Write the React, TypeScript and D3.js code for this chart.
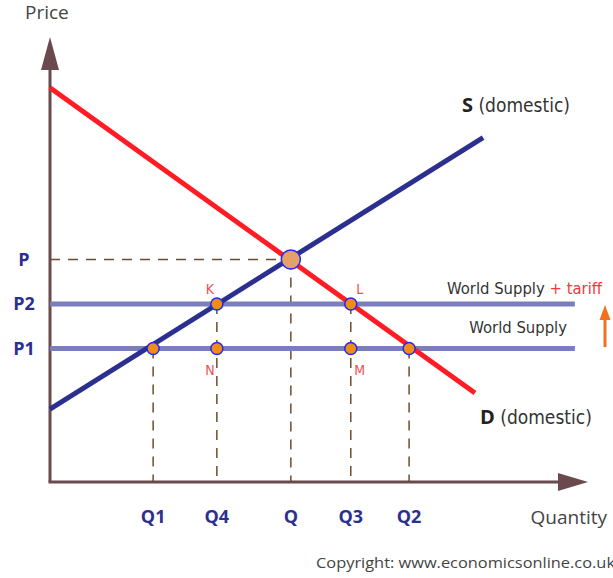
import React from "react";
import * as d3 from "d3";

// ---- data (quantity / price units, 0..100) ----
const supplyLine: [number, number][] = [[0, 16.4], [80.2, 77.4]];
const demandLine: [number, number][] = [[0, 88.6], [78.7, 20]];
const priceLevels = [
  { label: "P", value: 50 },
  { label: "P2", value: 40 },
  { label: "P1", value: 30 },
];
const quantityLabels = ["Q1", "Q4", "Q", "Q3", "Q2"];
const quantityValues = [19.1, 30.9, 44.6, 55.7, 66.5];
// world supply lines: [price, endQuantity]
const worldSupply = [
  { price: 40, end: 97.2 },
  { price: 30, end: 97.2 },
];
// points: quantity, price, letter
const points = [
  { q: 30.9, p: 40, letter: "K", pos: "above" },
  { q: 55.7, p: 40, letter: "L", pos: "above" },
  { q: 30.9, p: 30, letter: "N", pos: "below" },
  { q: 55.7, p: 30, letter: "M", pos: "below" },
  { q: 19.1, p: 30, letter: "", pos: "" },
  { q: 66.5, p: 30, letter: "", pos: "" },
];
const equilibrium = { q: 44.6, p: 50 };
// vertical dashed drops: quantity, top price
const drops = [
  { q: 19.1, p: 30 },
  { q: 30.9, p: 40 },
  { q: 44.6, p: 50 },
  { q: 55.7, p: 40 },
  { q: 66.5, p: 30 },
];

const W = 613;
const H = 578;

export default function App() {
  const x = d3.scaleLinear().domain([0, 100]).range([50, 590]);
  const y = d3.scaleLinear().domain([0, 100]).range([482, 37]);
  const line = d3
    .line<[number, number]>()
    .x((d) => x(d[0]))
    .y((d) => y(d[1]));

  const blue = "#2b2f8f";
  const red = "#ff1c24";
  const world = "#7a7ebd";
  const axis = "#6a4a4c";
  const dash = "#6b4e2e";
  const labelFont = "'Open Sans', sans-serif";
  const narrow = "'Liberation Sans Narrow', 'DejaVu Sans Condensed', sans-serif";

  return (
    <svg
      width={W}
      height={H}
      style={{ position: "absolute", left: 0, top: 0, background: "#fff" }}
    >
      {/* axes */}
      <line x1={x(0)} y1={y(0)} x2={x(0)} y2={70} stroke={axis} strokeWidth={3} />
      <polygon points={`${x(0)},37 ${x(0) - 9},70 ${x(0) + 9},70`} fill={axis} />
      <line x1={x(0) - 1.5} y1={y(0)} x2={560} y2={y(0)} stroke={axis} strokeWidth={3} />
      <polygon
        points={`588,${y(0)} 558,${y(0) - 9} 558,${y(0) + 9}`}
        fill={axis}
      />

      {/* dashed lines */}
      <line
        x1={x(0)}
        y1={y(equilibrium.p)}
        x2={x(equilibrium.q)}
        y2={y(equilibrium.p)}
        stroke={dash}
        strokeWidth={1.5}
        strokeDasharray="10 8"
      />
      {drops.map((d, i) => (
        <line
          key={i}
          x1={x(d.q)}
          y1={y(d.p)}
          x2={x(d.q)}
          y2={y(0)}
          stroke={dash}
          strokeWidth={1.5}
          strokeDasharray="10 8"
        />
      ))}

      {/* world supply lines */}
      {worldSupply.map((w, i) => (
        <line
          key={i}
          x1={x(0)}
          y1={y(w.price)}
          x2={x(w.end)}
          y2={y(w.price)}
          stroke={world}
          strokeWidth={5}
        />
      ))}

      {/* supply & demand */}
      <path d={line(supplyLine) || ""} stroke={blue} strokeWidth={5} fill="none" />
      <path d={line(demandLine) || ""} stroke={red} strokeWidth={5} fill="none" />

      {/* points */}
      {points.map((p, i) => (
        <g key={i}>
          <circle
            cx={x(p.q)}
            cy={y(p.p)}
            r={6}
            fill="#f08c1a"
            stroke="#1f2cf0"
            strokeWidth={1.5}
          />
          {p.letter && (
            <text
              x={x(p.q) + (p.letter === "L" || p.letter === "M" ? 9 : -7)}
              y={p.pos === "above" ? y(p.p) - 10 : y(p.p) + 26}
              fill="#f05050"
              fontFamily={narrow}
              fontSize={14}
              textAnchor="middle"
            >
              {p.letter}
            </text>
          )}
        </g>
      ))}
      <circle
        cx={x(equilibrium.q)}
        cy={y(equilibrium.p)}
        r={9.5}
        fill="#e6a266"
        stroke="#1f2cf0"
        strokeWidth={1.5}
      />

      {/* price labels */}
      {priceLevels.map((p, i) => (
        <text
          key={i}
          x={24}
          y={y(p.value) + 6}
          fill={blue}
          fontFamily={labelFont}
          fontWeight={700}
          fontSize={18}
          textAnchor="middle"
        >
          {p.label}
        </text>
      ))}

      {/* quantity labels */}
      {quantityLabels.map((q, i) => (
        <text
          key={i}
          x={x(quantityValues[i])}
          y={523}
          fill={blue}
          fontFamily={labelFont}
          fontWeight={700}
          fontSize={18}
          textAnchor="middle"
        >
          {q}
        </text>
      ))}

      {/* axis titles */}
      <text x={25} y={19} fill="#444" fontFamily={labelFont} fontSize={19}>
        Price
      </text>
      <text x={607} y={524} fill="#444" fontFamily={labelFont} fontSize={19} textAnchor="end">
        Quantity
      </text>

      {/* curve labels */}
      <text x={462} y={112} fill="#333" fontFamily={narrow} fontSize={19}>
        <tspan fontFamily={labelFont} fontWeight={700} fontSize={20} fill="#222">S</tspan>
        <tspan> (domestic)</tspan>
      </text>
      <text x={480} y={424} fill="#333" fontFamily={narrow} fontSize={19}>
        <tspan fontFamily={labelFont} fontWeight={700} fontSize={20} fill="#222">D</tspan>
        <tspan> (domestic)</tspan>
      </text>

      {/* world supply labels */}
      <text x={602} y={294} fill="#333" fontFamily={narrow} fontSize={16.5} textAnchor="end">
        World Supply <tspan fill="#f03a3a">+ tariff</tspan>
      </text>
      <text x={567} y={333} fill="#333" fontFamily={narrow} fontSize={16.5} textAnchor="end">
        World Supply
      </text>

      {/* orange arrow */}
      <line x1={605} y1={347} x2={605} y2={318} stroke="#f07020" strokeWidth={3} />
      <polygon points="605,305 599.5,320 610.5,320" fill="#f07020" />

      {/* copyright */}
      <text
        x={316}
        y={568}
        fill="#444"
        fontFamily={labelFont}
        fontSize={15}
        textLength={299}
        lengthAdjust="spacingAndGlyphs"
      >
        Copyright: www.economicsonline.co.uk
      </text>
    </svg>
  );
}
